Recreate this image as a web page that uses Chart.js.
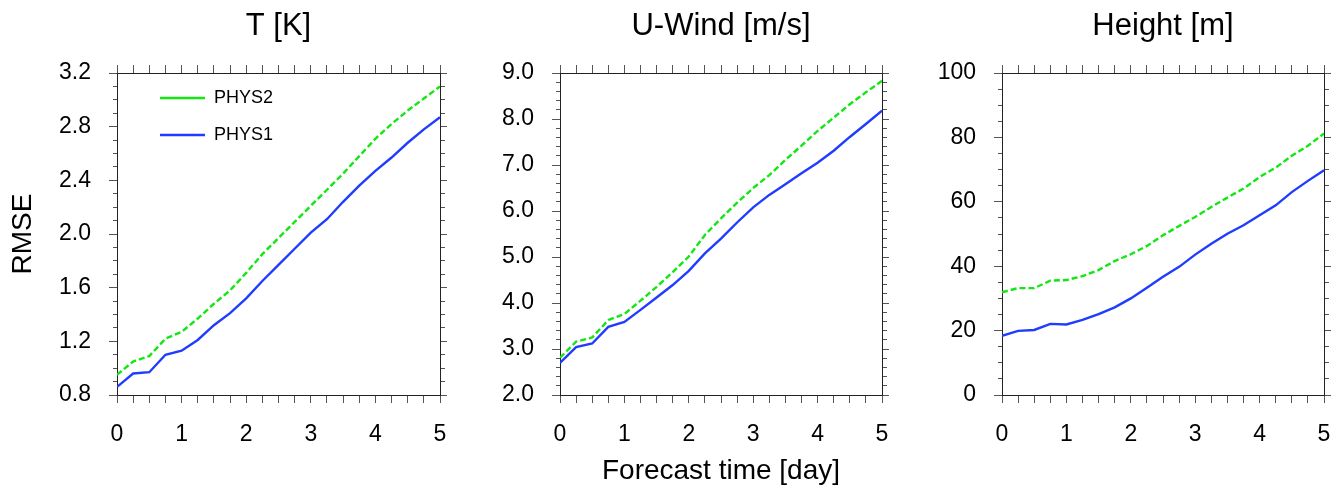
<!DOCTYPE html>
<html>
<head>
<meta charset="utf-8">
<script src="https://cdn.jsdelivr.net/npm/chart.js@4/dist/chart.umd.min.js"></script>
<style>
  html, body { margin: 0; padding: 0; background: #fff; }
  #wrap { position: relative; width: 1336px; height: 488px; overflow: hidden; }
  canvas { position: absolute; top: 0; }
</style>
</head>
<body>
<div id="wrap">
  <canvas id="tChart" width="450" height="488" style="left:0px"></canvas>
  <canvas id="uChart" width="442" height="488" style="left:450px"></canvas>
  <canvas id="hChart" width="444" height="488" style="left:892px"></canvas>
</div>
<script>
// forecast time (days), every 6 h
const days = [0, 0.25, 0.5, 0.75, 1, 1.25, 1.5, 1.75, 2, 2.25, 2.5, 2.75, 3, 3.25, 3.5, 3.75, 4, 4.25, 4.5, 4.75, 5];
const xTickLabels = ['0', '1', '2', '3', '4', '5'];

// temperature RMSE [K]
const tPhys2 = [0.95, 1.05, 1.09, 1.22, 1.27, 1.37, 1.48, 1.58, 1.71, 1.85, 1.97, 2.09, 2.21, 2.33, 2.45, 2.58, 2.71, 2.82, 2.92, 3.01, 3.10];
const tPhys1 = [0.86, 0.96, 0.97, 1.10, 1.13, 1.21, 1.32, 1.41, 1.52, 1.65, 1.77, 1.89, 2.01, 2.11, 2.24, 2.36, 2.47, 2.57, 2.68, 2.78, 2.87];
// u-wind RMSE [m/s]
const uPhys2 = [2.81, 3.16, 3.25, 3.63, 3.76, 4.05, 4.35, 4.67, 5.01, 5.48, 5.84, 6.18, 6.50, 6.78, 7.11, 7.42, 7.74, 8.03, 8.32, 8.58, 8.83];
const uPhys1 = [2.70, 3.04, 3.12, 3.48, 3.59, 3.85, 4.12, 4.39, 4.70, 5.08, 5.40, 5.75, 6.08, 6.35, 6.58, 6.82, 7.05, 7.31, 7.61, 7.89, 8.18];
// height RMSE [m]
const hPhys2 = [31.9, 33.2, 33.2, 35.5, 35.7, 36.9, 38.8, 41.6, 43.7, 46.3, 49.6, 52.5, 55.3, 58.4, 61.3, 64.1, 67.7, 70.6, 74.3, 77.4, 81.2];
const hPhys1 = [18.4, 19.9, 20.2, 22.1, 21.9, 23.3, 25.1, 27.2, 30.0, 33.3, 36.7, 39.8, 43.6, 47.0, 50.1, 52.7, 55.8, 58.9, 63.0, 66.5, 69.8];

const FONT = 'Liberation Sans, Arial, Helvetica, sans-serif';
Chart.defaults.font.family = FONT;
Chart.defaults.color = '#000';

const onStep = (v, step) => Math.abs(v / step - Math.round(v / step)) < 1e-6;

// put the legend inside the plot, near the top-left corner
const legendShift = {
  id: 'legendShift',
  afterLayout(chart){
    const lg = chart.legend, ca = chart.chartArea;
    if(lg){ lg.left = ca.left + 24; lg.top = ca.top - 3; }
  }
};

// fixed scale boxes so the three plot areas line up like the original
const fixBox = (w, h) => s => {
  if(w !== null) s.width = w;
  if(h !== null) s.height = h;
  s.paddingLeft = 0; s.paddingRight = 0; s.paddingTop = 0; s.paddingBottom = 0;
};

function makePanel(id, o){
  const pts = arr => days.map((d, i) => ({ x: d, y: arr[i] }));
  const xCommon = {
    type: 'linear', min: 0, max: 5,
    grid: { drawOnChartArea: false, tickLength: 8, tickColor: '#555', tickWidth: 1 },
    border: { display: true, color: '#222', width: 1 }
  };
  const yCommon = {
    type: 'linear', min: o.min, max: o.max,
    border: { display: true, color: '#222', width: 1 }
  };
  return new Chart(document.getElementById(id).getContext('2d'), {
    type: 'line',
    data: {
      datasets: [
        { label: 'PHYS2', data: pts(o.phys2), borderColor: '#14e614', backgroundColor: '#14e614',
          borderDash: [6, 3], borderWidth: 2.4, pointRadius: 0, tension: 0, fill: false },
        { label: 'PHYS1', data: pts(o.phys1), borderColor: '#1f3cff', backgroundColor: '#1f3cff',
          borderWidth: 2.4, pointRadius: 0, tension: 0, fill: false }
      ]
    },
    options: {
      responsive: false,
      animation: false,
      layout: { padding: 0, autoPadding: false },
      plugins: {
        title: { display: false },
        tooltip: { enabled: false },
        legend: {
          display: !!o.legend,
          position: 'chartArea',
          align: 'start',
          labels: {
            usePointStyle: true, pointStyle: 'line', pointStyleWidth: 45,
            padding: 19, color: '#000', font: { size: 18 }
          }
        }
      },
      scales: {
        x: Object.assign({}, xCommon, {
          position: 'bottom',
          afterFit: fixBox(null, 93),
          ticks: {
            stepSize: 0.25, autoSkip: false, maxTicksLimit: 100, maxRotation: 0, minRotation: 0,
            padding: 18, color: '#000', font: { size: 23 },
            callback: v => onStep(v, 1) ? xTickLabels[Math.round(v)] : ''
          },
          title: { display: !!o.xTitle, text: o.xTitle || '', color: '#000', font: { size: 28 }, padding: { top: 0, bottom: 0 } }
        }),
        x2: Object.assign({}, xCommon, {
          position: 'top',
          afterFit: fixBox(null, 73),
          ticks: { display: false, stepSize: 0.25, autoSkip: false, maxTicksLimit: 100 },
          title: { display: true, text: o.title, color: '#000', font: { size: 31 }, padding: { top: 8, bottom: 0 } }
        }),
        y: Object.assign({}, yCommon, {
          position: 'left',
          afterFit: fixBox(o.leftWidth, null),
          ticks: {
            stepSize: o.minor, autoSkip: false, maxTicksLimit: 200,
            padding: 18, color: '#000', font: { size: 23 },
            callback: v => onStep(v, o.major) ? v.toFixed(o.decimals) : ''
          },
          grid: {
            drawOnChartArea: false, tickLength: 8, tickColor: '#555', tickWidth: 1,
            tickBorderDash: c => (c.tick && onStep(c.tick.value, o.major)) ? [] : [0, 4, 4, 100]
          },
          title: { display: !!o.yTitle, text: o.yTitle || '', color: '#000', font: { size: 28 }, padding: { top: 6, bottom: 0 } }
        }),
        y2: Object.assign({}, yCommon, {
          position: 'right',
          afterFit: fixBox(o.rightWidth, null),
          ticks: { display: false, stepSize: o.minor, autoSkip: false, maxTicksLimit: 200 },
          grid: {
            drawOnChartArea: false, tickLength: 7, tickColor: '#555', tickWidth: 1,
            tickBorderDash: c => (c.tick && onStep(c.tick.value, o.major)) ? [] : [4, 100]
          }
        })
      }
    },
    plugins: o.legend ? [legendShift] : []
  });
}

makePanel('tChart', {
  title: 'T [K]', yTitle: 'RMSE', legend: true,
  min: 0.8, max: 3.2, minor: 0.1, major: 0.4, decimals: 1,
  phys1: tPhys1, phys2: tPhys2, leftWidth: 117, rightWidth: 10
});
makePanel('uChart', {
  title: 'U-Wind [m/s]', xTitle: 'Forecast time [day]',
  min: 2, max: 9, minor: 0.2, major: 1, decimals: 1,
  phys1: uPhys1, phys2: uPhys2, leftWidth: 110, rightWidth: 10
});
makePanel('hChart', {
  title: 'Height [m]',
  min: 0, max: 100, minor: 5, major: 20, decimals: 0,
  phys1: hPhys1, phys2: hPhys2, leftWidth: 110, rightWidth: 12
});
</script>
</body>
</html>
